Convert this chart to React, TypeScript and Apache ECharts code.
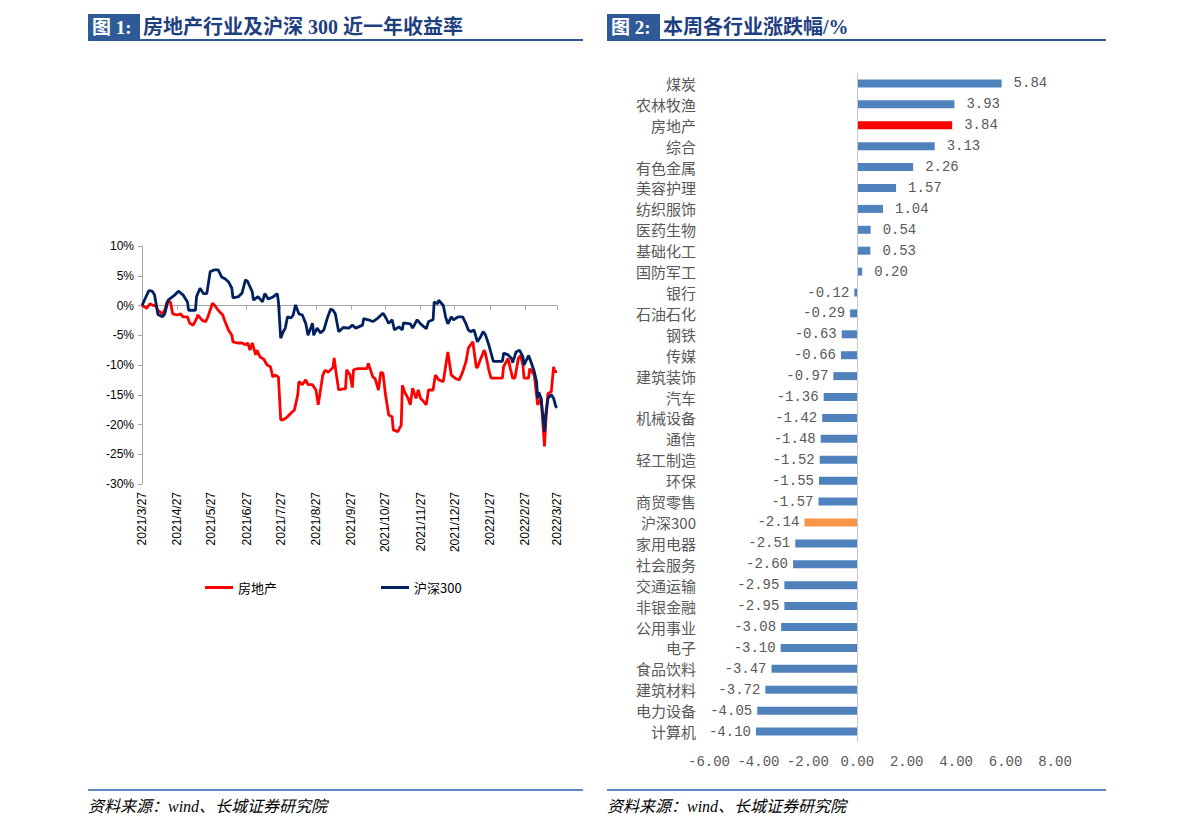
import React, { useEffect, useRef } from "react";
import * as echarts from "echarts";

// ---------- Figure 1 data: 近一年收益率 (%) ----------
const hsDates = [
  "2021/3/27","2021/4/2","2021/4/5","2021/4/7","2021/4/10","2021/4/14","2021/4/16","2021/4/19","2021/4/25","2021/4/28",
  "2021/5/2","2021/5/6","2021/5/7","2021/5/13","2021/5/14","2021/5/17","2021/5/20","2021/5/23","2021/5/26","2021/5/30",
  "2021/6/2","2021/6/5","2021/6/8","2021/6/11","2021/6/14","2021/6/15","2021/6/20","2021/6/23","2021/6/26","2021/6/28",
  "2021/7/2","2021/7/3","2021/7/7","2021/7/11","2021/7/13","2021/7/16","2021/7/20","2021/7/22","2021/7/24","2021/7/25",
  "2021/7/27","2021/7/29","2021/7/31","2021/8/2","2021/8/5","2021/8/7","2021/8/9","2021/8/12","2021/8/15","2021/8/18",
  "2021/8/20","2021/8/24","2021/8/25","2021/8/28","2021/8/31","2021/9/3","2021/9/6","2021/9/9","2021/9/11","2021/9/13",
  "2021/9/16","2021/9/20","2021/9/25","2021/9/28","2021/10/1","2021/10/7","2021/10/8","2021/10/12","2021/10/16","2021/10/20",
  "2021/10/25","2021/10/27","2021/10/30","2021/11/2","2021/11/4","2021/11/8","2021/11/11","2021/11/12","2021/11/18","2021/11/20",
  "2021/11/24","2021/11/27","2021/12/2","2021/12/4","2021/12/8","2021/12/9","2021/12/12","2021/12/13","2021/12/17","2021/12/19",
  "2021/12/21","2021/12/24","2021/12/26","2021/12/30","2022/1/3","2022/1/6","2022/1/8","2022/1/10","2022/1/13","2022/1/16",
  "2022/1/19","2022/1/21","2022/1/23","2022/1/26","2022/1/30","2022/2/3","2022/2/7","2022/2/8","2022/2/12","2022/2/15",
  "2022/2/16","2022/2/19","2022/2/22","2022/2/25","2022/2/26","2022/3/2","2022/3/4","2022/3/7","2022/3/9","2022/3/10",
  "2022/3/11","2022/3/13","2022/3/16","2022/3/17","2022/3/19","2022/3/22","2022/3/24","2022/3/26","2022/3/27"
];
const hsValues = [
  0, 2.5, 2.4, 1.8, -1.5, -1.9, -1.4, 0.9, 1.8, 2.4,
  1.8, 0.6, -0.8, -0.8, 1.5, 2.9, 2.0, 2.0, 5.7, 6.0,
  6.0, 4.8, 4.5, 4.0, 2.9, 1.3, 1.5, 2.1, 4.3, 4.0,
  2.3, 0.9, 1.5, 0.6, 2.0, 1.1, 1.4, 1.7, 2.0, 0.6,
  -5.5, -4.5, -3.8, -1.9, -2.1, -1.6, 0.1, -1.4, -1.6, -3.0,
  -5.0, -3.0, -5.0, -3.8, -4.6, -4.1, -2.1, -0.6, -0.8, -1.4,
  -4.4, -3.7, -3.8, -3.3, -3.8, -3.3, -2.2, -2.4, -2.7, -2.2,
  -1.3, -1.9, -3.0, -2.4, -4.1, -3.6, -4.1, -2.9, -3.1, -3.8,
  -2.4, -3.1, -3.9, -2.7, -2.4, 0.6, 0.3, 0.9, 0.0, -1.9,
  -3.1, -1.9, -2.4, -1.9, -1.9, -3.1, -4.1, -4.4, -4.1, -6.1,
  -5.2, -4.4, -4.9, -6.6, -9.4, -9.4, -9.4, -8.0, -8.3, -8.9,
  -9.6, -7.8, -7.5, -8.6, -10.0, -8.4, -9.4, -11.1, -12.8, -15.6,
  -14.6, -15.6, -21.2, -18.4, -15.6, -15.0, -15.6, -17.0, -17.2
];

const reDates = [
  "2021/3/27","2021/3/30","2021/3/31","2021/4/3","2021/4/6","2021/4/8","2021/4/10","2021/4/14","2021/4/16","2021/4/18",
  "2021/4/21","2021/4/23","2021/4/27","2021/4/30","2021/5/2","2021/5/6","2021/5/8","2021/5/11","2021/5/14","2021/5/15",
  "2021/5/19","2021/5/22","2021/5/24","2021/5/28","2021/5/30","2021/6/2","2021/6/6","2021/6/8","2021/6/11","2021/6/14",
  "2021/6/15","2021/6/19","2021/6/23","2021/6/26","2021/6/28","2021/6/30","2021/7/2","2021/7/5","2021/7/6","2021/7/9",
  "2021/7/12","2021/7/15","2021/7/18","2021/7/20","2021/7/22","2021/7/25","2021/7/27","2021/7/29","2021/7/31","2021/8/3",
  "2021/8/6","2021/8/8","2021/8/11","2021/8/12","2021/8/15","2021/8/18","2021/8/20","2021/8/24","2021/8/27","2021/8/29",
  "2021/9/2","2021/9/4","2021/9/7","2021/9/11","2021/9/12","2021/9/14","2021/9/16","2021/9/20","2021/9/22","2021/9/23",
  "2021/9/26","2021/9/28","2021/9/29","2021/10/3","2021/10/11","2021/10/12","2021/10/16","2021/10/18","2021/10/21","2021/10/23",
  "2021/10/25","2021/10/27","2021/10/30","2021/11/2","2021/11/3","2021/11/7","2021/11/10","2021/11/11","2021/11/13","2021/11/16",
  "2021/11/18","2021/11/20","2021/11/23","2021/11/25","2021/11/27","2021/11/30","2021/12/2","2021/12/4","2021/12/8","2021/12/10",
  "2021/12/13","2021/12/17","2021/12/21","2021/12/24","2021/12/28","2021/12/31","2022/1/3","2022/1/6","2022/1/8","2022/1/10",
  "2022/1/12","2022/1/15","2022/1/16","2022/1/19","2022/1/22","2022/1/23","2022/1/26","2022/1/28","2022/2/3","2022/2/7",
  "2022/2/8","2022/2/12","2022/2/14","2022/2/16","2022/2/18","2022/2/21","2022/2/23","2022/2/25","2022/2/26","2022/3/2",
  "2022/3/3","2022/3/7","2022/3/10","2022/3/13","2022/3/16","2022/3/17","2022/3/19","2022/3/22","2022/3/24","2022/3/25",
  "2022/3/27"
];
const reValues = [
  0, -0.3, -0.5, 0.3, 0, 0, -0.8, -1.4, -0.8, 0.6,
  0.6, -1.4, -1.6, -1.4, -1.9, -1.9, -3.0, -3.3, -2.2, -1.6,
  -2.5, -2.7, -1.9, 0.4, 0, -0.8, -1.6, -2.7, -4.1, -5.0,
  -6.1, -6.3, -6.3, -6.6, -6.3, -7.5, -6.3, -8.3, -7.5, -8.7,
  -9.0, -10.0, -10.3, -12.0, -11.7, -12.0, -19.2, -19.2, -19.0, -18.5,
  -17.9, -17.6, -15.0, -12.8, -13.3, -12.5, -13.3, -13.3, -14.2, -16.7,
  -11.7, -10.9, -11.2, -10.4, -8.8, -11.7, -14.2, -14.0, -14.0, -10.8,
  -11.7, -13.8, -10.8, -10.6, -10.6, -9.7, -12.0, -12.3, -14.2, -11.2,
  -11.4, -14.8, -18.4, -18.7, -20.9, -21.2, -20.1, -13.4, -14.5, -15.6,
  -16.7, -13.9, -15.6, -14.2, -15.6, -16.2, -16.7, -14.2, -14.2, -11.7,
  -12.5, -12.8, -7.8, -11.7, -12.3, -12.5, -11.2, -9.4, -7.2, -6.6,
  -6.1, -10.4, -10.4, -8.9, -7.5, -8.0, -10.8, -12.2, -12.2, -12.2,
  -10.3, -8.9, -10.6, -12.2, -12.2, -8.9, -8.4, -10.0, -12.2, -12.2,
  -10.6, -11.7, -16.7, -15.6, -23.7, -20.1, -14.8, -14.5, -10.3, -11.1,
  -11.1
];

const lineYTicks = { min: -30, max: 10, step: 5 };

// ---------- Figure 2 data: 本周各行业涨跌幅 (%) ----------
const industries = [
  "煤炭","农林牧渔","房地产","综合","有色金属","美容护理","纺织服饰","医药生物","基础化工","国防军工",
  "银行","石油石化","钢铁","传媒","建筑装饰","汽车","机械设备","通信","轻工制造","环保",
  "商贸零售","沪深300","家用电器","社会服务","交通运输","非银金融","公用事业","电子","食品饮料","建筑材料",
  "电力设备","计算机"
];
const changes = [
  5.84, 3.93, 3.84, 3.13, 2.26, 1.57, 1.04, 0.54, 0.53, 0.20,
  -0.12, -0.29, -0.63, -0.66, -0.97, -1.36, -1.42, -1.48, -1.52, -1.55,
  -1.57, -2.14, -2.51, -2.60, -2.95, -2.95, -3.08, -3.10, -3.47, -3.72,
  -4.05, -4.10
];
const barXTicks = { min: -6, max: 8, step: 2 };

function buildDays(): string[] {
  const out: string[] = [];
  const d = new Date(2021, 2, 27, 12);
  const end = new Date(2022, 2, 27, 12);
  while (d.getTime() <= end.getTime() + 3600000) {
    out.push(`${d.getFullYear()}/${d.getMonth() + 1}/${d.getDate()}`);
    d.setDate(d.getDate() + 1);
  }
  return out;
}

const TITLE_BLUE = "#2E5B97";
const TITLE_TEXT = "#1F4080";
const CJK = '"Noto Sans CJK SC", sans-serif';

export default function App() {
  const ref = useRef<HTMLDivElement>(null);
  useEffect(() => {
    if (!ref.current) return;
    const chart = echarts.init(ref.current, null, { renderer: "svg" });
    const days = buildDays();
    const isMonthMark = (_i: number, v: string) => /\/27$/.test(v);

    const hsData = hsDates.map((d, i) => [d, hsValues[i]]);
    const reData = reDates.map((d, i) => [d, reValues[i]]);

    const barData = changes.map((v, i) => {
      const name = industries[i];
      let color = "#4F81BD";
      if (name === "房地产") color = "#FF0000";
      if (name === "沪深300") color = "#F79646";
      return {
        value: v,
        itemStyle: { color },
        label: v >= 0 ? { position: "right", distance: 12 } : { position: "left", distance: 5 },
      };
    });

    const titleBlock = (x: number, w: number, lineEnd: number, tag: string, title: string) => [
      { type: "rect", shape: { x, y: 14, width: w, height: 25 }, style: { fill: TITLE_BLUE } },
      {
        type: "text", x: x + 4, y: 27,
        style: { text: tag, fill: "#fff", font: `bold 19px "Liberation Serif", ${CJK}`, verticalAlign: "middle" },
      },
      {
        type: "text", x: x + w + 3, y: 27,
        style: { text: title, fill: TITLE_TEXT, font: `bold 20px "Liberation Serif", ${CJK}`, verticalAlign: "middle" },
      },
      { type: "line", shape: { x1: x, y1: 40, x2: lineEnd, y2: 40 }, style: { stroke: TITLE_BLUE, lineWidth: 2 } },
      { type: "line", shape: { x1: x, y1: 790, x2: lineEnd, y2: 790 }, style: { stroke: "#5B87C5", lineWidth: 2 } },
      {
        type: "text", x, y: 806,
        style: { text: "资料来源：wind、长城证券研究院", fill: "#000", font: `italic 16px "Liberation Serif", ${CJK}`, verticalAlign: "middle" },
      },
    ];

    chart.setOption({
      animation: false,
      backgroundColor: "#fff",
      graphic: [
        ...titleBlock(88, 52, 583, "图 1:", "房地产行业及沪深 300 近一年收益率"),
        ...titleBlock(607, 53, 1106, "图 2:", "本周各行业涨跌幅/%"),
      ],
      legend: {
        data: ["房地产", "沪深300"],
        left: 200,
        top: 576,
        icon: "rect",
        itemWidth: 28,
        itemHeight: 3,
        itemGap: 104,
        textStyle: { fontSize: 13, color: "#000", fontFamily: CJK },
      },
      grid: [
        { left: 142, top: 246, width: 415, height: 238 },
        { left: 709, top: 73, width: 346, height: 669 },
      ],
      xAxis: [
        {
          type: "category", gridIndex: 0, data: days, boundaryGap: false, position: "bottom",
          axisLine: { show: false, onZero: false }, axisTick: { show: false },
          axisLabel: { interval: isMonthMark, rotate: 90, margin: 8, fontSize: 12, color: "#000", fontFamily: '"Liberation Sans", Arial, sans-serif' },
          splitLine: { show: false },
        },
        {
          type: "category", gridIndex: 0, data: days, boundaryGap: false, position: "bottom",
          axisLine: { show: true, onZero: true, onZeroAxisIndex: 0, lineStyle: { color: "#A6A6A6", width: 1 } },
          axisTick: { show: true, interval: isMonthMark, length: 4, lineStyle: { color: "#A6A6A6" } },
          axisLabel: { show: false },
          splitLine: { show: false },
        },
        {
          type: "value", gridIndex: 1, min: barXTicks.min, max: barXTicks.max, interval: barXTicks.step,
          axisLine: { show: false }, axisTick: { show: false }, splitLine: { show: false },
          axisLabel: {
            margin: 13, fontSize: 14, color: "#595959", fontFamily: '"Liberation Mono", monospace',
            formatter: (v: number) => v.toFixed(2),
          },
        },
      ],
      yAxis: [
        {
          type: "value", gridIndex: 0, min: lineYTicks.min, max: lineYTicks.max, interval: lineYTicks.step,
          axisLine: { show: true, lineStyle: { color: "#A6A6A6" } },
          axisTick: { show: true, length: 4, lineStyle: { color: "#A6A6A6" } },
          splitLine: { show: false },
          axisLabel: { formatter: (v: number) => `${v}%`, fontSize: 12, color: "#000", margin: 8, fontFamily: '"Liberation Sans", Arial, sans-serif' },
        },
        {
          type: "category", gridIndex: 1, data: industries, inverse: true,
          axisLine: { show: false }, axisTick: { show: false },
          axisLabel: { margin: 13, fontSize: 15, color: "#595959", fontFamily: CJK },
        },
      ],
      series: [
        {
          name: "房地产", type: "line", xAxisIndex: 0, yAxisIndex: 0, data: reData,
          showSymbol: false, symbol: "none", lineStyle: { color: "#FF0000", width: 2.8 }, itemStyle: { color: "#FF0000" },
        },
        {
          name: "沪深300", type: "line", xAxisIndex: 0, yAxisIndex: 0, data: hsData,
          showSymbol: false, symbol: "none", lineStyle: { color: "#002060", width: 2.8 }, itemStyle: { color: "#002060" },
        },
        {
          name: "本周涨跌幅", type: "bar", xAxisIndex: 2, yAxisIndex: 1, data: barData, barWidth: 8,
          label: {
            show: true, fontSize: 14, color: "#595959", fontFamily: '"Liberation Mono", monospace',
            formatter: (p: any) => Number(p.value).toFixed(2),
          },
          markLine: {
            silent: true, symbol: "none", label: { show: false },
            lineStyle: { color: "#C8C8C8", type: "solid", width: 1 },
            data: [{ xAxis: 0 }],
          },
        },
      ],
    });
    return () => chart.dispose();
  }, []);
  return <div ref={ref} style={{ position: "absolute", left: 0, top: 0, width: 1191, height: 835, background: "#fff" }} />;
}
